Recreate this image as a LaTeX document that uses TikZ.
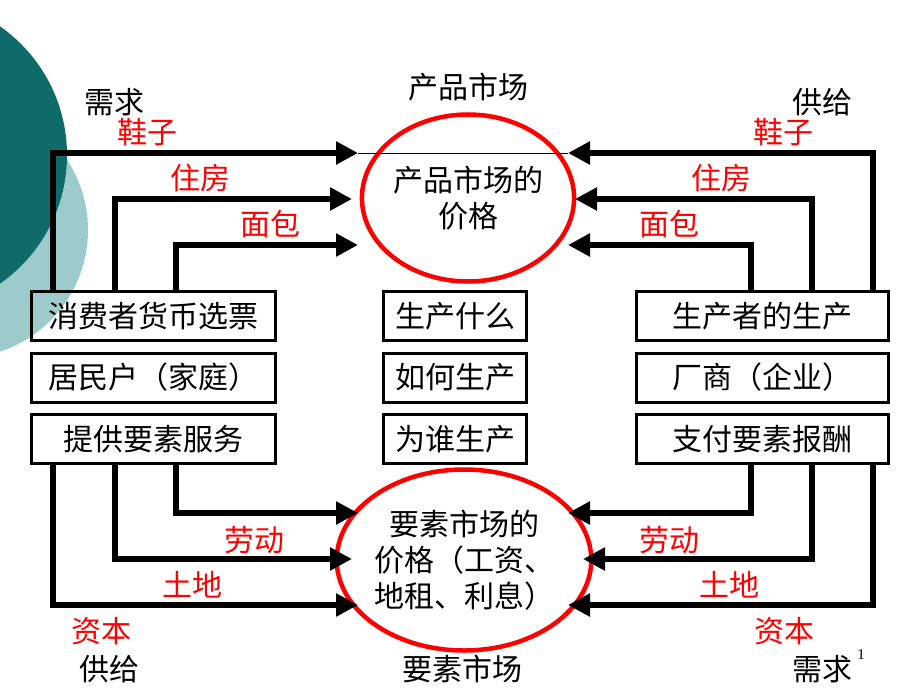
\documentclass[tikz,border=0pt]{standalone}
\usepackage{fontspec}
\setmainfont{Noto Sans CJK SC}
\newfontfamily\numfont{Liberation Serif}
\usepackage{tikz}
\usetikzlibrary{positioning,arrows.meta,shapes.geometric}

\definecolor{tealdark}{HTML}{0F6A6A}
\definecolor{teallight}{HTML}{9DCBCB}

\newcommand{\bigcjk}{\fontsize{30pt}{36pt}\selectfont}

\tikzset{
	box/.style     = {draw, line width=3pt, minimum width=244pt, minimum height=49pt, inner sep=0pt},
	midbox/.style  = {box, minimum width=143pt},
	firmbox/.style = {box, minimum width=252pt},
	market/.style  = {draw=red, ellipse, line width=4.5pt, inner sep=0pt, align=center},
	flow/.style    = {line width=6.5pt, line join=miter, -{Triangle[length=22pt,width=22pt]}},
	good/.style    = {text=red},
}

\begin{document}
\begin{tikzpicture}[x=1pt, y=-1pt, font=\bigcjk, node distance = 9.5pt and 2.5cm]
		\useasboundingbox (0,0) rectangle (920,690);
		% Background
		\begin{scope}
			\clip (0,0) rectangle (920,690);
			\fill[teallight] (-40,230) circle (128pt);
			\fill[tealdark] (-90,155) circle (157pt);
		\end{scope}
		% Nodes
		\node[box] (h1) at (153.5,316) {消费者货币选票};
		\node[box] (h2) [below=of h1] {居民户（家庭）};
		\node[box] (h3) [below=of h2] {提供要素服务};
		\node[midbox] (q1) at (455,316) {生产什么};
		\node[midbox] (q2) [below=of q1] {如何生产};
		\node[midbox] (q3) [below=of q2] {为谁生产};
		\node[firmbox] (f1) at (762.5,316) {生产者的生产};
		\node[firmbox] (f2) [below=of f1] {厂商（企业）};
		\node[firmbox] (f3) [below=of f2] {支付要素报酬};
		\node[market, minimum width=185pt, minimum height=167pt] (pm) at (468,198) {产品市场的\\价格};
		\node[market, minimum width=207pt, minimum height=181pt] (fm) at (464,560) {要素市场的\\价格（工资、\\地租、利息）};
		% Labels
		\node (pmt) at (468,87) {产品市场};
		\node (fmt) at (462,669) {要素市场};
		\node (d1) at (114,102) {需求};
		\node (s1) at (822,102) {供给};
		\node (s2) at (109,669) {供给};
		\node (d2) at (822,669) {需求};
		\node[font=\numfont\fontsize{15pt}{15pt}\selectfont] (pg) at (861,655) {1};
		\node[good] (shoeL) at (147,132) {鞋子};
		\node[good] (homeL) at (200,178) {住房};
		\node[good] (breadL) at (270,224) {面包};
		\node[good] (shoeR) at (783,132) {鞋子};
		\node[good] (homeR) at (721,178) {住房};
		\node[good] (breadR) at (669,224) {面包};
		\node[good] (labL) at (254,540) {劳动};
		\node[good] (landL) at (192,585) {土地};
		\node[good] (capL) at (101,631) {资本};
		\node[good] (labR) at (669,540) {劳动};
		\node[good] (landR) at (729,585) {土地};
		\node[good] (capR) at (784,631) {资本};
		% Arrow ends
		\coordinate (hx1) at (53,0);
		\coordinate (hx2) at (115,0);
		\coordinate (hx3) at (176,0);
		\coordinate (fx1) at (873,0);
		\coordinate (fx2) at (812,0);
		\coordinate (fx3) at (751,0);
		\coordinate (pL1) at (358,153);
		\coordinate (pL2) at (352,199);
		\coordinate (pL3) at (358,245);
		\coordinate (pR1) at (568,153);
		\coordinate (pR2) at (575,199);
		\coordinate (pR3) at (568,245);
		\coordinate (fL1) at (358,513);
		\coordinate (fL2) at (352,559);
		\coordinate (fL3) at (358,605);
		\coordinate (fR1) at (568,513);
		\coordinate (fR2) at (583,559);
		\coordinate (fR3) at (568,605);
		%Arrows
		\draw[line width=1pt] (pL1) -- (pR1);
		\draw[flow] (hx1 |- h1.north) |- (pL1);
		\draw[flow] (hx2 |- h1.north) |- (pL2);
		\draw[flow] (hx3 |- h1.north) |- (pL3);
		\draw[flow] (fx1 |- f1.north) |- (pR1);
		\draw[flow] (fx2 |- f1.north) |- (pR2);
		\draw[flow] (fx3 |- f1.north) |- (pR3);
		\draw[flow] (hx3 |- h3.south) |- (fL1);
		\draw[flow] (hx2 |- h3.south) |- (fL2);
		\draw[flow] (hx1 |- h3.south) |- (fL3);
		\draw[flow] (fx3 |- f3.south) |- (fR1);
		\draw[flow] (fx2 |- f3.south) |- (fR2);
		\draw[flow] (fx1 |- f3.south) |- (fR3);
	\end{tikzpicture}
\end{document}
